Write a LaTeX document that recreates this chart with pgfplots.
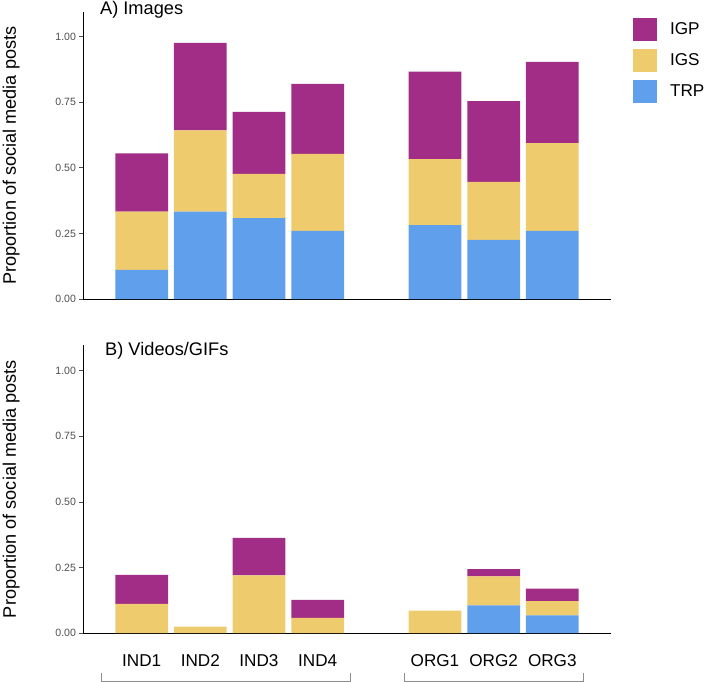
\documentclass[border=0pt]{standalone}
\usepackage{pgfplots}
\pgfplotsset{compat=1.18}
\usepackage{pgfplotstable}
\usepackage{fontspec}
\setmainfont{Liberation Sans}
\definecolor{igp}{HTML}{A22D87}
\definecolor{igs}{HTML}{EECB6C}
\definecolor{trp}{HTML}{5F9FEB}
\definecolor{tickgray}{HTML}{4D4D4D}
\definecolor{brk}{HTML}{8C8C8C}

\pgfplotstableread{
x trp igs igp
1 0.111 0.222 0.222
2 0.333 0.310 0.333
3 0.308 0.169 0.236
4 0.260 0.293 0.267
6 0.282 0.251 0.334
7 0.225 0.221 0.308
8 0.260 0.334 0.310
}\images
\pgfplotstableread{
x trp igs igp
1 0     0.111 0.111
2 0     0.024 0
3 0     0.220 0.143
4 0     0.058 0.068
6 0     0.085 0
7 0.105 0.111 0.028
8 0.067 0.055 0.047
}\videos

\pgfplotsset{
 panel/.style={
  scale only axis, width=528bp, xmin=0, xmax=9, ymin=0,
  axis x line*=bottom, axis y line*=left,
  axis line style={black, line width=0.9bp},
  ybar stacked, bar width=0.9,
  ytick={0,0.25,0.5,0.75,1},
  yticklabel style={font=\fontsize{10.6}{12}\selectfont, text=tickgray},
  /pgf/number format/fixed, /pgf/number format/fixed zerofill,
  /pgf/number format/precision=2, /pgf/number format/assume math mode=true,
  tick align=outside, major tick length=3.5bp,
  ytick style={tickgray, line width=0.7bp},
  xtick style={draw=none},
  clip=false,
  ylabel={Proportion of social media posts},
  ylabel style={font=\fontsize{18.2}{20}\selectfont, at={(axis description cs:-0.1525,0.5)}, anchor=north, inner sep=0pt},
 }
}

\begin{document}
\begin{tikzpicture}
\path[use as bounding box] (0,0) rectangle (704bp,-682bp);

\begin{axis}[panel, at={(83bp,-299bp)}, anchor=south west, height=287bp, ymax=1.094,
  xtick=\empty,
  reverse legend,
  legend image code/.code={\fill[#1] (0bp,-11.5bp) rectangle (24bp,11.5bp);},
  legend cell align=left,
  legend style={at={(axis description cs:1.041,0.9815)}, anchor=north west, draw=none, fill=none, inner sep=0pt, row sep=8bp,
    font=\fontsize{17.2}{20}\selectfont, /tikz/every odd column/.style={column sep=11.3bp}},
]
\addplot[fill=trp, draw=none] table[x=x, y=trp] {\images};
\addplot[fill=igs, draw=none] table[x=x, y=igs] {\images};
\addplot[fill=igp, draw=none] table[x=x, y=igp] {\images};
\legend{TRP, IGS, IGP}
\node[anchor=base west, font=\fontsize{18.3}{20}\selectfont, inner sep=0pt] at (axis description cs:0.032,0.993) {A) Images};
\end{axis}

\begin{axis}[panel, at={(83bp,-633bp)}, anchor=south west, height=288bp, ymax=1.098,
  xtick={1,2,3,4,6,7,8},
  xticklabels={IND1,IND2,IND3,IND4,ORG1,ORG2,ORG3},
  xticklabel style={font=\fontsize{17.2}{20}\selectfont, anchor=base, inner sep=0pt, yshift=-30.3bp},
]
\addplot[fill=trp, draw=none] table[x=x, y=trp] {\videos};
\addplot[fill=igs, draw=none] table[x=x, y=igs] {\videos};
\addplot[fill=igp, draw=none] table[x=x, y=igp] {\videos};
\node[anchor=base west, font=\fontsize{18.3}{20}\selectfont, inner sep=0pt] at (axis description cs:0.0417,0.963) {B) Videos/GIFs};
\draw[brk, line width=0.8bp] ([yshift=-40.3bp]axis cs:0.306,0) -- ([yshift=-48bp]axis cs:0.306,0) -- ([yshift=-48bp]axis cs:4.56,0) -- ([yshift=-40.3bp]axis cs:4.56,0);
\draw[brk, line width=0.8bp] ([yshift=-40.3bp]axis cs:5.47,0) -- ([yshift=-48bp]axis cs:5.47,0) -- ([yshift=-48bp]axis cs:8.53,0) -- ([yshift=-40.3bp]axis cs:8.53,0);
\end{axis}
\end{tikzpicture}
\end{document}
